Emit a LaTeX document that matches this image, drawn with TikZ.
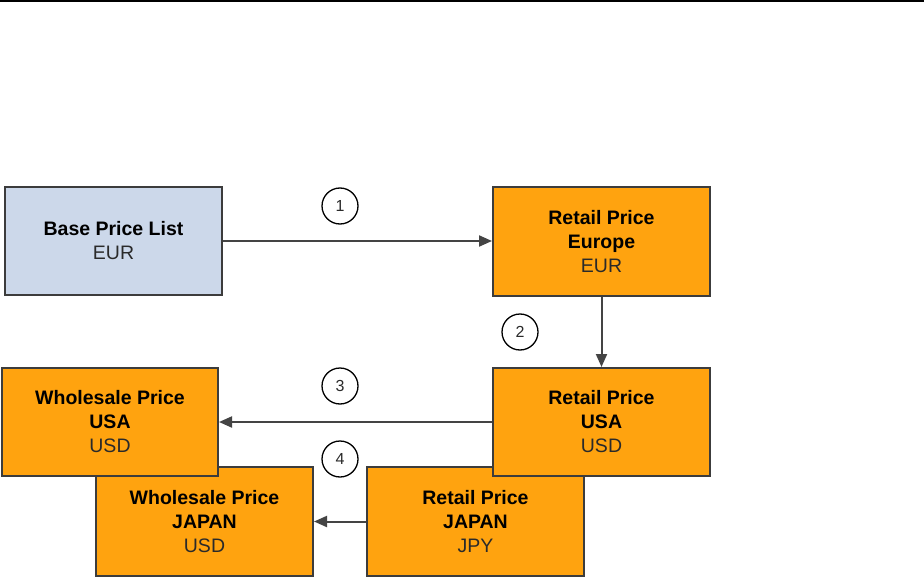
\documentclass[tikz,border=0pt]{standalone}
\usepackage{fontspec}
\setmainfont{Liberation Sans}
\usetikzlibrary{arrows.meta}
\definecolor{boxorange}{HTML}{FFA30F}
\definecolor{boxblue}{HTML}{CCD8EA}
\definecolor{edgegray}{HTML}{3C3C3C}
\definecolor{arrowgray}{HTML}{444444}
\definecolor{txtgray}{HTML}{2A2A2A}
\tikzset{
  pricebox/.style={draw=edgegray, line width=2pt, minimum width=217pt, minimum height=108pt,
    inner sep=0pt, align=center, font=\bfseries\fontsize{19.5}{24}\selectfont, text=black},
  orangebox/.style={pricebox, fill=boxorange},
  bluebox/.style={pricebox, fill=boxblue},
  flow/.style={draw=arrowgray, line width=2pt, -{Triangle[length=13pt,width=11pt]}},
  stepnum/.style={circle, draw=black, line width=1.3pt, minimum size=36pt, inner sep=0pt,
    font=\fontsize{16}{16}\selectfont, text=txtgray, fill=white}
}
\newcommand{\cur}[1]{{\mdseries\color{txtgray}#1}}
\begin{document}
\begin{tikzpicture}[x=1pt,y=-1pt]
\useasboundingbox (0,0) rectangle (924,578);
\fill[white] (0,0) rectangle (924,578);
\draw[black, line width=2pt] (0,1) coordinate (tl) -- (924,1) coordinate (tr);

\node[bluebox] (base) at (113.5,241) {Base Price List\\ \cur{EUR}};
\node[orangebox, minimum height=109pt] (eur) at (601.5,241.5) {Retail Price\\ Europe\\ \cur{EUR}};

\node[orangebox, minimum height=109pt] (wjp) at (204.5,521.5) {Wholesale Price\\ JAPAN\\ \cur{USD}};
\node[orangebox, minimum height=109pt] (rjp) at (475.5,521.5) {Retail Price\\ JAPAN\\ \cur{JPY}};

\node[orangebox] (rusa) at (601.5,422) {Retail Price\\ USA\\ \cur{USD}};
\node[orangebox, minimum width=216pt] (wusa) at (110,422) {Wholesale Price\\ USA\\ \cur{USD}};

\draw[flow] (base.east) -- (eur.west |- base.east);
\draw[flow] (eur.south) -- (rusa.north);
\draw[flow] (rusa.west) -- (wusa.east);
\draw[flow] (rjp.west) -- (wjp.east);

\node[stepnum] (s1) at (340,206) {1};
\node[stepnum] (s2) at (520,332) {2};
\node[stepnum] (s3) at (340,386) {3};
\node[stepnum] (s4) at (340,459) {4};
\end{tikzpicture}
\end{document}
